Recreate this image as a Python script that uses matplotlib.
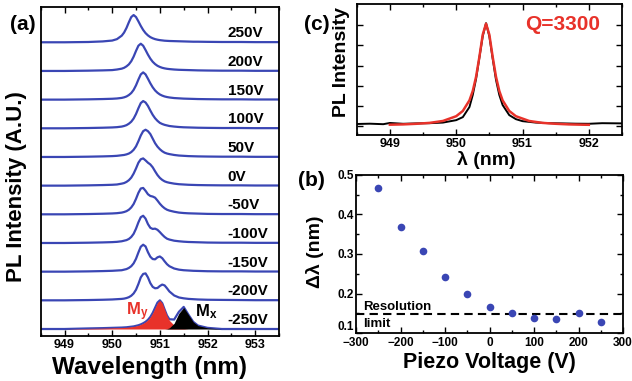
import matplotlib
matplotlib.use('Agg')
import matplotlib.pyplot as plt
import numpy as np
from matplotlib.ticker import MultipleLocator

plt.rcParams['font.family'] = ['Liberation Sans', 'DejaVu Sans']
plt.rcParams['font.weight'] = 'bold'
plt.rcParams['mathtext.fontset'] = 'custom'
plt.rcParams['mathtext.rm'] = 'Liberation Sans:bold'
plt.rcParams['mathtext.bf'] = 'Liberation Sans:bold'
plt.rcParams['mathtext.it'] = 'Liberation Sans:bold'

# ---- panel (a): PL spectra vs piezo voltage ----
wl_a = [948.5, 949.0, 949.5, 949.8, 950.0, 950.1, 950.2,
        950.25, 950.3, 950.35, 950.4, 950.45, 950.5, 950.55, 950.6, 950.65, 950.7,
        950.75, 950.8, 950.85, 950.9, 950.95, 951.0, 951.05, 951.1, 951.15, 951.2,
        951.3, 951.4, 951.5, 951.6, 951.7, 951.8,
        952.0, 952.3, 952.7, 953.0, 953.5]

volt_labels = ['-250V', '-200V', '-150V', '-100V', '-50V', '0V',
               '50V', '100V', '150V', '200V', '250V']

pm200 = [0, 0, .01, .02, .03, .04, .05,
         .06, .08, .11, .16, .24, .37, .57, .8, .92, .94, .8, .6, .47, .42, .43, .5, .55, .52, .42, .31,
         .17, .1, .07, .05, .04, .03,
         .02, .015, .01, .005, .005]
pm150 = [0, 0, .01, .02, .03, .04, .05,
         .07, .09, .13, .19, .29, .45, .67, .87, .94, .88, .68, .52, .44, .43, .5, .53, .47, .36, .26, .19,
         .11, .07, .05, .04, .03, .025,
         .015, .01, .01, .005, .005]
pm100 = [0, 0, .01, .02, .03, .04, .06,
         .08, .1, .14, .21, .32, .5, .72, .9, .95, .85, .66, .53, .49, .5, .46, .38, .29, .21, .15, .12,
         .08, .06, .045, .035, .03, .025,
         .015, .01, .01, .005, .005]
pm50 = [0, 0, .01, .02, .03, .04, .06,
        .08, .11, .16, .24, .36, .54, .75, .9, .92, .82, .7, .64, .62, .58, .48, .37, .28, .21, .16, .13,
        .09, .06, .045, .035, .03, .025,
        .015, .01, .01, .005, .005]
p0 = [0, 0, .01, .02, .03, .04, .07,
      .09, .13, .19, .28, .42, .6, .8, .92, .95, .88, .8, .74, .64, .5, .37, .27, .2, .15, .12, .1,
      .07, .05, .04, .03, .025, .02,
      .015, .01, .01, .005, .005]
p50 = [0, 0, .01, .02, .03, .04, .06,
       .07, .09, .12, .17, .25, .37, .55, .75, .9, .95, .9, .8, .64, .48, .36, .27, .2, .15, .12, .1,
       .07, .05, .04, .03, .025, .02,
       .015, .01, .01, .005, .005]
p100 = [0, 0, .01, .02, .03, .04, .06,
        .08, .11, .16, .23, .34, .5, .7, .88, .95, .9, .78, .62, .47, .35, .26, .19, .15, .12, .1, .08,
        .06, .045, .035, .03, .025, .02,
        .015, .01, .01, .005, .005]
p150 = [0, 0, .01, .02, .03, .04, .06,
        .08, .11, .16, .23, .34, .5, .7, .88, .95, .88, .73, .57, .43, .32, .24, .18, .14, .11, .09, .075,
        .055, .045, .035, .03, .025, .02,
        .015, .01, .01, .005, .005]
p200 = [0, 0, .01, .02, .03, .05, .08,
        .11, .16, .23, .34, .5, .7, .88, .95, .88, .73, .57, .43, .32, .24, .18, .14, .11, .09, .075, .065,
        .05, .04, .035, .03, .025, .02,
        .015, .01, .01, .005, .005]
p250 = [0, 0, .01, .03, .06, .11, .23,
        .34, .5, .7, .88, .95, .88, .73, .57, .43, .32, .24, .18, .14, .11, .09, .075, .065, .055, .05, .045,
        .04, .035, .03, .025, .02, .02,
        .015, .01, .01, .005, .005]

# -250V spectrum split into the two modes
mode_y = [0, 0, .02, .03, .04, .045, .05,
          .055, .06, .07, .08, .09, .11, .13, .16, .2, .25, .32, .42, .56, .74, .92, 1.0, .9, .68, .46, .3,
          .13, .05, .02, 0, 0, 0,
          0, 0, 0, 0, 0]
mode_x = [0, 0, 0, 0, 0, 0, 0,
          0, 0, 0, 0, 0, 0, 0, 0, 0, 0, 0, 0, 0, 0, 0, 0, 0, 0, .01, .04,
          .2, .55, .75, .5, .25, .12,
          .04, 0, 0, 0, 0]

# ---- panel (c): single spectrum with Lorentzian fit ----
wl_c = [948.5, 948.7, 948.9, 949.0, 949.2, 949.4, 949.6, 949.8, 950.0, 950.1, 950.2,
        950.25, 950.3, 950.35, 950.4, 950.45, 950.5, 950.55, 950.6, 950.65, 950.7,
        950.8, 950.9, 951.0, 951.2, 951.4, 951.6, 951.8, 952.0, 952.2, 952.5]
pl_c = [0.022, 0.025, 0.02, 0.032, 0.024, 0.028, 0.03, 0.036, 0.06, 0.09, 0.19,
        0.31, 0.47, 0.68, 0.89, 1.02, 0.89, 0.67, 0.46, 0.31, 0.21,
        0.11, 0.07, 0.05, 0.036, 0.03, 0.028, 0.025, 0.024, 0.03, 0.028]
wl_fit = [949.0, 949.2, 949.4, 949.6, 949.8, 950.0, 950.1, 950.2, 950.25, 950.3, 950.35,
          950.4, 950.45, 950.5, 950.55, 950.6, 950.65, 950.7, 950.8, 950.9, 951.1,
          951.3, 951.5, 951.7, 951.9, 952.0]
fit_c = [0.015, 0.018, 0.024, 0.033, 0.052, 0.099, 0.151, 0.256, 0.349, 0.49, 0.687,
         0.906, 1.015, 0.906, 0.687, 0.49, 0.349, 0.256, 0.151, 0.099, 0.052,
         0.033, 0.024, 0.018, 0.015, 0.014]

# ---- panel (b): splitting vs piezo voltage ----
piezo_v = [-250, -200, -150, -100, -50, 0, 50, 100, 150, 200, 250]
dlambda = [0.468, 0.369, 0.308, 0.242, 0.199, 0.167, 0.150, 0.137, 0.136, 0.150, 0.129]
res_limit = 0.147
b_yticks = [0.1, 0.2, 0.3, 0.4, 0.5]

blue = '#3a46b4'
red = '#e8322a'

fig = plt.figure(figsize=(6.32, 3.81), dpi=100)
W, H = 632.0, 381.0


def px(x, y):
    return x / W, 1 - y / H


def style_ticks(ax, size):
    ax.tick_params(which='both', direction='in', top=True, right=True, width=1)
    ax.tick_params(which='major', length=4, labelsize=size, pad=2.5)
    ax.tick_params(which='minor', length=2.5)
    for s in ax.spines.values():
        s.set_linewidth(1.3)


# (a)
ax_a = fig.add_axes([40.7 / W, 1 - 336 / H, (279 - 40.7) / W, (336 - 7.3) / H])
traces = [pm200, pm150, pm100, pm50, p0, p50, p100, p150, p200, p250]
wl = np.array(wl_a)
my = np.array(mode_y)
mx = np.array(mode_x)
ax_a.plot(wl, my + mx, color=blue, lw=1.6, zorder=2)
ax_a.fill_between(wl, 0, my, color=red, lw=0, zorder=3)
ax_a.fill_between(wl, 0, mx, color='black', lw=0, zorder=4)
for i, tr in enumerate(traces):
    ax_a.plot(wl, np.array(tr) + i + 1, color=blue, lw=1.6, zorder=2)
for i, lab in enumerate(volt_labels):
    ax_a.text(952.42, i + 0.31, lab, ha='left', va='center', fontsize=11, fontweight='bold')
ax_a.text(950.28, 0.6, r'$\mathrm{M}_\mathrm{y}$', color=red, ha='left', va='center', fontsize=12)
ax_a.text(951.74, 0.6, r'$\mathrm{M}_\mathrm{x}$', color='black', ha='left', va='center', fontsize=12)
ax_a.set_xlim(948.5, 953.5)
ax_a.set_ylim(-0.244, 11.22)
ax_a.set_yticks([])
ax_a.xaxis.set_major_locator(MultipleLocator(1))
ax_a.xaxis.set_minor_locator(MultipleLocator(0.5))
style_ticks(ax_a, 9)
ax_a.tick_params(which='both', left=False, right=False)

fig.text(*px(149, 367.7), 'Wavelength (nm)', ha='center', va='center', fontsize=17.5)
fig.text(*px(16.5, 187), 'PL Intensity (A.U.)', ha='center', va='center', rotation=90, fontsize=16)
fig.text(*px(23, 25), '(a)', ha='center', va='center', fontsize=15)

# (c)
ax_c = fig.add_axes([356.7 / W, 1 - 135 / H, (622 - 356.7) / W, (135 - 4.3) / H])
ax_c.plot(wl_c, pl_c, color='black', lw=1.4, zorder=2)
ax_c.plot(wl_fit, fit_c, color=red, lw=1.8, zorder=3)
ax_c.set_xlim(948.5, 952.5)
ax_c.set_ylim(-0.087, 1.207)
ax_c.set_yticks([0, 0.2, 0.4, 0.6, 0.8, 1.0])
ax_c.set_yticklabels([])
ax_c.xaxis.set_major_locator(MultipleLocator(1))
ax_c.xaxis.set_minor_locator(MultipleLocator(0.5))
style_ticks(ax_c, 9)
fig.text(*px(486, 160), 'λ (nm)', ha='center', va='center', fontsize=14)
fig.text(*px(342, 62.3), 'PL Intensity', ha='center', va='center', rotation=90, fontsize=14)
fig.text(*px(562.5, 24.2), 'Q=3300', color=red, ha='center', va='center', fontsize=15)
fig.text(*px(316.7, 25), '(c)', ha='center', va='center', fontsize=15)

# (b)
ax_b = fig.add_axes([356 / W, 1 - 333 / H, (623 - 356) / W, (333 - 175) / H])
ax_b.plot(piezo_v, dlambda, 'o', color=blue, markersize=5.5, markeredgewidth=0, zorder=3)
ax_b.axhline(res_limit, color='black', lw=1.5, ls=(0, (4, 2.5)), zorder=2)
ax_b.text(-283.6, 0.1666, 'Resolution', ha='left', va='center', fontsize=9.5)
ax_b.text(-283.6, 0.122, 'limit', ha='left', va='center', fontsize=9.5)
ax_b.set_xlim(-300, 300)
ax_b.set_ylim(0.1, 0.5)
ax_b.xaxis.set_major_locator(MultipleLocator(100))
ax_b.xaxis.set_minor_locator(MultipleLocator(50))
ax_b.set_yticks(b_yticks)
ax_b.yaxis.set_minor_locator(MultipleLocator(0.05))
style_ticks(ax_b, 8.5)
ax_b.tick_params(axis='y', which='major', pad=1.5)
ax_b.tick_params(axis='x', which='major', pad=3)
# lift the lowest y label a little so it clears the "-300" label
ax_b.yaxis.get_major_ticks()[0].label1.set_verticalalignment('bottom')
fig.text(*px(489, 362.5), 'Piezo Voltage (V)', ha='center', va='center', fontsize=15.5)
fig.text(*px(315, 251.7), 'Δλ (nm)', ha='center', va='center', rotation=90, fontsize=14)
fig.text(*px(311, 180), '(b)', ha='center', va='center', fontsize=15)

fig.savefig('out.png', dpi=100)
plt.close(fig)
